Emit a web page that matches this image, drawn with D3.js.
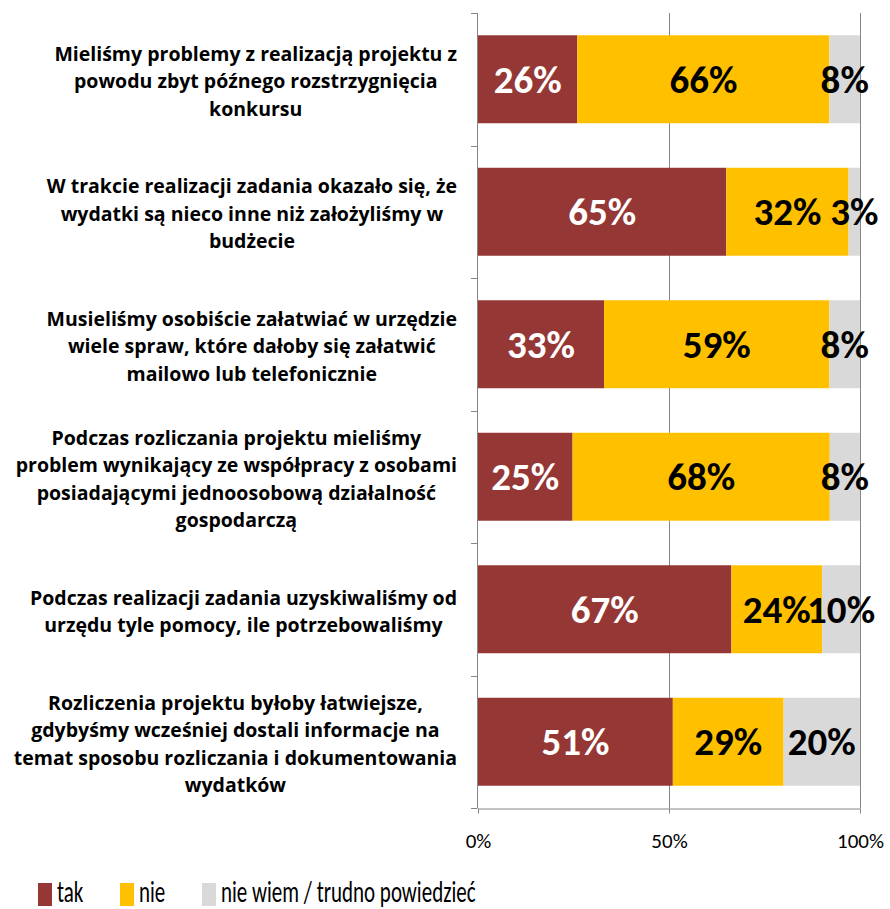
<!DOCTYPE html>
<html>
<head>
<meta charset="utf-8">
<script src="https://cdn.jsdelivr.net/npm/d3@7.9.0/dist/d3.min.js"></script>
<style>
  body { margin: 0; background: #fff; }
  svg { display: block; font-family: Carlito, Lato, 'Open Sans', sans-serif; }
</style>
</head>
<body>
<svg id="chart" width="890" height="909"></svg>
<script>
// categories (one line per array item, as in the original labels)
const categories = [
  ['Mieliśmy problemy z realizacją projektu z', 'powodu zbyt późnego rozstrzygnięcia', 'konkursu'],
  ['W trakcie realizacji zadania okazało się, że', 'wydatki są nieco inne niż założyliśmy w', 'budżecie'],
  ['Musieliśmy osobiście załatwiać w urzędzie', 'wiele spraw, które dałoby się załatwić', 'mailowo lub telefonicznie'],
  ['Podczas rozliczania projektu mieliśmy', 'problem wynikający ze współpracy z osobami', 'posiadającymi jednoosobową działalność', 'gospodarczą'],
  ['Podczas realizacji zadania uzyskiwaliśmy od', 'urzędu tyle pomocy, ile potrzebowaliśmy'],
  ['Rozliczenia projektu byłoby łatwiejsze,', 'gdybyśmy wcześniej dostali informacje na', 'temat sposobu rozliczania i dokumentowania', 'wydatków']
];
const seriesNames = ['tak', 'nie', 'nie wiem / trudno powiedzieć'];
const tak = [26, 65, 33, 25, 67, 51];
const nie = [66, 32, 59, 68, 24, 29];
const nieWiem = [8, 3, 8, 8, 10, 20];
const colors = ['#953735', '#FFC000', '#D9D9D9'];
const xTicks = [0, 0.5, 1];

const rows = categories.map((c, i) => ({
  key: i, tak: tak[i], nie: nie[i], nieWiem: nieWiem[i]
}));
const keys = ['tak', 'nie', 'nieWiem'];

const svg = d3.select('#chart');

const x = d3.scaleLinear().domain([0, 1]).range([478, 860]);
const y = d3.scaleBand()
  .domain(d3.range(categories.length))
  .range([13, 808])
  .paddingInner(0.336)
  .paddingOuter(0.168);

const stack = d3.stack().keys(keys).offset(d3.stackOffsetExpand);
const series = stack(rows);

// gridlines
svg.append('g')
  .selectAll('line')
  .data(xTicks.slice(1))
  .join('line')
  .attr('x1', d => x(d) + 0.5).attr('x2', d => x(d) + 0.5)
  .attr('y1', 13).attr('y2', 808)
  .attr('stroke', '#868686');

// bars
const groups = svg.append('g')
  .selectAll('g')
  .data(series)
  .join('g')
  .attr('fill', (d, i) => colors[i]);

groups.selectAll('rect')
  .data(d => d)
  .join('rect')
  .attr('x', d => x(d[0]))
  .attr('width', d => x(d[1]) - x(d[0]))
  .attr('y', d => y(d.data.key))
  .attr('height', y.bandwidth());

// data labels
series.forEach((s, si) => {
  svg.append('g')
    .selectAll('text')
    .data(s)
    .join('text')
    .attr('x', d => (x(d[0]) + x(d[1])) / 2)
    .attr('y', d => y(d.data.key) + y.bandwidth() / 2)
    .attr('dy', '0.35em')
    .attr('text-anchor', 'middle')
    .attr('font-size', 39)
    .attr('font-weight', 'bold')
    .attr('fill', si === 0 ? '#fff' : '#000')
    .text(d => d.data[keys[si]] + '%');
});

// x axis
const xAxis = svg.append('g')
  .attr('transform', 'translate(0,808.5)')
  .call(d3.axisBottom(x).tickValues(xTicks).tickFormat(d3.format('.0%')).tickSize(5).tickSizeOuter(0));
xAxis.select('.domain').attr('stroke', '#868686');
xAxis.selectAll('.tick line').attr('stroke', '#868686');
xAxis.selectAll('.tick text')
  .attr('font-size', 21)
  .attr('font-family', 'Carlito, Lato, sans-serif')
  .attr('fill', '#000')
  .attr('dy', 0)
  .attr('y', 39);

// y axis (ticks sit between categories)
const step = y.step();
const bounds = d3.range(categories.length + 1).map(i => 13 + i * step);
svg.append('line')
  .attr('x1', 477.5).attr('x2', 477.5)
  .attr('y1', 13).attr('y2', 808)
  .attr('stroke', '#868686');
svg.append('g')
  .selectAll('line')
  .data(bounds)
  .join('line')
  .attr('x1', 471).attr('x2', 477.5)
  .attr('y1', d => Math.round(d) + 0.5).attr('y2', d => Math.round(d) + 0.5)
  .attr('stroke', '#868686');

// category labels: block right-aligned next to the axis, lines centred in the block
const lineH = 27.5;
const labelRight = 457;
const labels = svg.append('g')
  .selectAll('text')
  .data(categories)
  .join('text')
  .attr('text-anchor', 'middle')
  .attr('font-family', "'Open Sans', sans-serif")
  .attr('font-size', 19.5)
  .attr('font-weight', 'bold')
  .attr('fill', '#000');
labels.each(function (lines, i) {
  const cy = y(i) + y.bandwidth() / 2 + 2;
  const top = cy - (lines.length - 1) * lineH / 2;
  const spans = d3.select(this).selectAll('tspan')
    .data(lines)
    .join('tspan')
    .attr('y', (d, j) => top + j * lineH)
    .attr('dy', '0.36em')
    .text(d => d);
  const widest = d3.max(spans.nodes(), n => n.getComputedTextLength());
  spans.attr('x', labelRight - widest / 2);
});

// legend
const legendX = [38, 120, 202];
const legend = svg.append('g')
  .selectAll('g')
  .data(seriesNames)
  .join('g')
  .attr('transform', (d, i) => `translate(${legendX[i]},883)`);
legend.append('rect')
  .attr('width', 14).attr('height', 23)
  .attr('fill', (d, i) => colors[i]);
legend.append('text')
  .attr('x', 19)
  .attr('y', 19)
  .attr('font-size', 30)
  .attr('fill', '#000')
  .attr('transform', 'scale(0.7,1)')
  .attr('transform-origin', '19 19')
  .text(d => d);
</script>
</body>
</html>
